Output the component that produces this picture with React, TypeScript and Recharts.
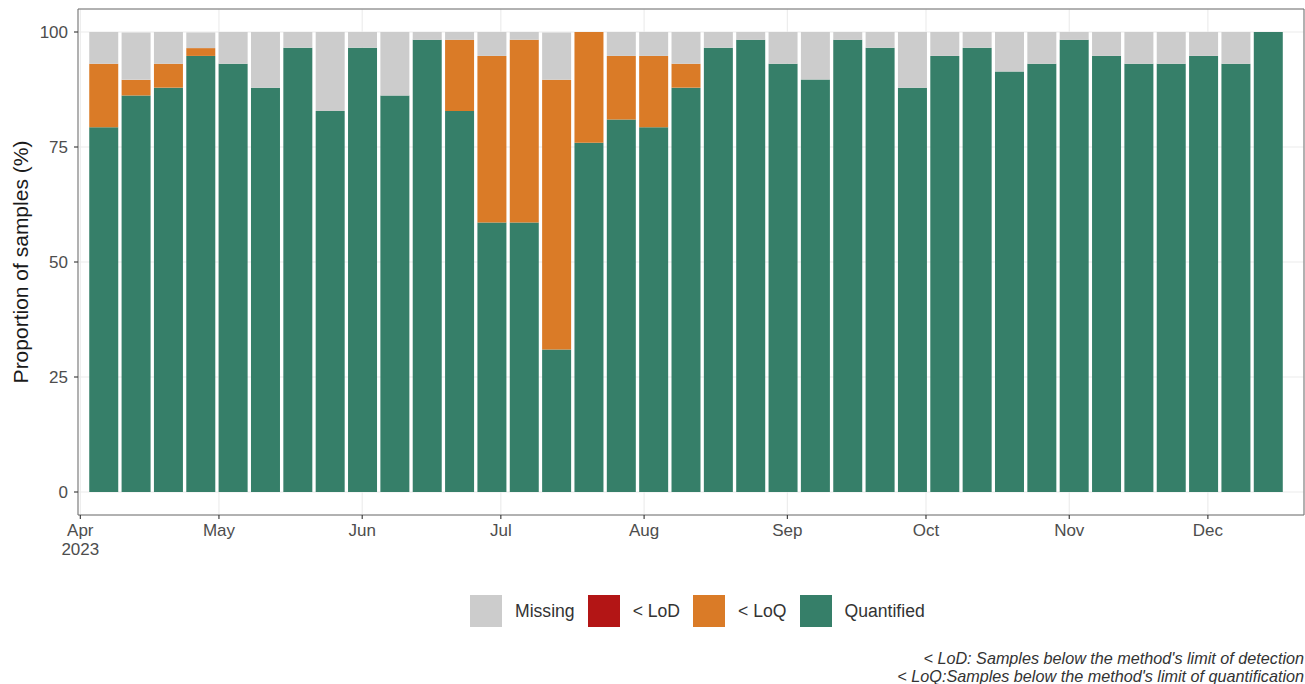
import {
  Bar,
  BarChart,
  CartesianGrid,
  Label,
  Legend,
  ReferenceArea,
  XAxis,
  YAxis,
} from "recharts";

// week dates (bar centres) and % of samples per status
const WEEKS = [
  "2023-04-06", "2023-04-13", "2023-04-20", "2023-04-27", "2023-05-04",
  "2023-05-11", "2023-05-18", "2023-05-25", "2023-06-01", "2023-06-08",
  "2023-06-15", "2023-06-22", "2023-06-29", "2023-07-06", "2023-07-13",
  "2023-07-20", "2023-07-27", "2023-08-03", "2023-08-10", "2023-08-17",
  "2023-08-24", "2023-08-31", "2023-09-07", "2023-09-14", "2023-09-21",
  "2023-09-28", "2023-10-05", "2023-10-12", "2023-10-19", "2023-10-26",
  "2023-11-02", "2023-11-09", "2023-11-16", "2023-11-23", "2023-11-30",
  "2023-12-07", "2023-12-14",
];

const QUANTIFIED = [
  79.3, 86.2, 87.9, 94.8, 93.1, 87.9, 96.6, 82.8, 96.6, 86.2,
  98.3, 82.8, 58.6, 58.6, 31.0, 75.9, 81.0, 79.3, 87.9, 96.6,
  98.3, 93.1, 89.7, 98.3, 96.6, 87.9, 94.8, 96.6, 91.4, 93.1,
  98.3, 94.8, 93.1, 93.1, 94.8, 93.1, 100,
];

const BELOW_LOQ = [
  13.8, 3.4, 5.2, 1.7, 0, 0, 0, 0, 0, 0,
  0, 15.5, 36.2, 39.7, 58.6, 24.1, 13.8, 15.5, 5.2, 0,
  0, 0, 0, 0, 0, 0, 0, 0, 0, 0,
  0, 0, 0, 0, 0, 0, 0,
];

const BELOW_LOD = [
  0, 0, 0, 0, 0, 0, 0, 0, 0, 0,
  0, 0, 0, 0, 0, 0, 0, 0, 0, 0,
  0, 0, 0, 0, 0, 0, 0, 0, 0, 0,
  0, 0, 0, 0, 0, 0, 0,
];

const MISSING = [
  6.9, 10.3, 6.9, 3.4, 6.9, 12.1, 3.4, 17.2, 3.4, 13.8,
  1.7, 1.7, 5.2, 1.7, 10.3, 0, 5.2, 5.2, 6.9, 3.4,
  1.7, 6.9, 10.3, 1.7, 3.4, 12.1, 5.2, 3.4, 8.6, 6.9,
  1.7, 5.2, 6.9, 6.9, 5.2, 6.9, 0,
];

const MONTH_DATES = [
  "2023-04-01", "2023-05-01", "2023-06-01", "2023-07-01", "2023-08-01",
  "2023-09-01", "2023-10-01", "2023-11-01", "2023-12-01",
];
const MONTH_LABELS = ["Apr\n2023", "May", "Jun", "Jul", "Aug", "Sep", "Oct", "Nov", "Dec"];

const Y_TICKS = [0, 25, 50, 75, 100];

const LEGEND_ITEMS = [
  { name: "Missing", color: "#CCCCCC" },
  { name: "< LoD", color: "#B31515" },
  { name: "< LoQ", color: "#DA7B27" },
  { name: "Quantified", color: "#367F69" },
];

const CAPTION = [
  "< LoD: Samples below the method's limit of detection",
  "< LoQ:Samples below the method's limit of quantification",
];

const DAY = 86400000;
const ORIGIN = Date.parse("2023-04-01");
const toDay = (iso: string) => Math.round((Date.parse(iso) - ORIGIN) / DAY);

const MONTH_TICKS = MONTH_DATES.map(toDay);

const data = WEEKS.map((w, i) => ({
  x: toDay(w),
  quantified: QUANTIFIED[i],
  loq: BELOW_LOQ[i],
  lod: BELOW_LOD[i],
  missing: MISSING[i],
}));

const TEXT = "#4d4d4d";

function MonthTick(props: any) {
  const { x, y, payload } = props;
  const idx = MONTH_TICKS.indexOf(payload.value);
  const lines = (MONTH_LABELS[idx] ?? "").split("\n");
  return (
    <text x={x} y={y} textAnchor="middle" fill={TEXT} fontSize={17}>
      {lines.map((line, k) => (
        <tspan key={k} x={x} dy={k === 0 ? "0.71em" : "1.12em"}>
          {line}
        </tspan>
      ))}
    </text>
  );
}

function LegendBlock() {
  return (
    <div style={{ position: "relative", height: 124, width: 1305 }}>
      <div
        style={{
          position: "absolute",
          left: 470,
          top: 35,
          display: "flex",
          alignItems: "center",
          fontSize: 17.6,
          color: "#333",
        }}
      >
        {LEGEND_ITEMS.map((item) => (
          <div key={item.name} style={{ display: "flex", alignItems: "center", marginRight: 13 }}>
            <div style={{ width: 32, height: 32, background: item.color, marginRight: 13 }} />
            <span>{item.name}</span>
          </div>
        ))}
      </div>
      <div
        style={{
          position: "absolute",
          right: 1,
          top: 89,
          textAlign: "right",
          fontStyle: "italic",
          fontSize: 16.2,
          lineHeight: "18px",
          color: "#333",
        }}
      >
        {CAPTION.map((c) => (
          <div key={c}>{c}</div>
        ))}
      </div>
    </div>
  );
}

export default function App() {
  return (
    <div
      style={{
        position: "absolute",
        left: 0,
        top: 0,
        width: 1305,
        height: 684,
        background: "#fff",
        fontFamily: "'Liberation Sans', Arial, sans-serif",
      }}
    >
      <BarChart
        width={1305}
        height={684}
        data={data}
        margin={{ top: 9, right: 1, left: 0, bottom: 0 }}
      >
        <CartesianGrid stroke="#ebebeb" strokeWidth={1.1} />
        <XAxis
          dataKey="x"
          type="number"
          domain={[-0.5, 264.8]}
          ticks={MONTH_TICKS}
          interval={0}
          allowDataOverflow
          height={45}
          tickSize={4}
          tickMargin={5}
          axisLine={false}
          tickLine={{ stroke: "#333", strokeWidth: 1.1 }}
          tick={<MonthTick />}
        />
        <YAxis
          type="number"
          domain={[-5, 105]}
          ticks={Y_TICKS}
          interval={0}
          allowDataOverflow
          width={78}
          tickSize={4}
          tickMargin={6}
          axisLine={false}
          tickLine={{ stroke: "#333", strokeWidth: 1.1 }}
          tick={{ fill: TEXT, fontSize: 17 }}
        >
          <Label
            content={() => (
              <text
                x={20}
                y={262}
                transform="rotate(-90, 20, 262)"
                textAnchor="middle"
                dominantBaseline="central"
                fontSize={21}
                fill="#1a1a1a"
              >
                Proportion of samples (%)
              </text>
            )}
          />
        </YAxis>
        <Bar dataKey="quantified" stackId="s" fill="#367F69" barSize={29} isAnimationActive={false} />
        <Bar dataKey="loq" stackId="s" fill="#DA7B27" barSize={29} isAnimationActive={false} />
        <Bar dataKey="lod" stackId="s" fill="#B31515" barSize={29} isAnimationActive={false} />
        <Bar dataKey="missing" stackId="s" fill="#CCCCCC" barSize={29} isAnimationActive={false} />
        <ReferenceArea
          x1={-0.5}
          x2={264.8}
          y1={-5}
          y2={105}
          fill="none"
          stroke="#6f6f6f"
          strokeWidth={1}
          fillOpacity={0}
        />
        <Legend verticalAlign="bottom" content={() => <LegendBlock />} />
      </BarChart>
    </div>
  );
}
